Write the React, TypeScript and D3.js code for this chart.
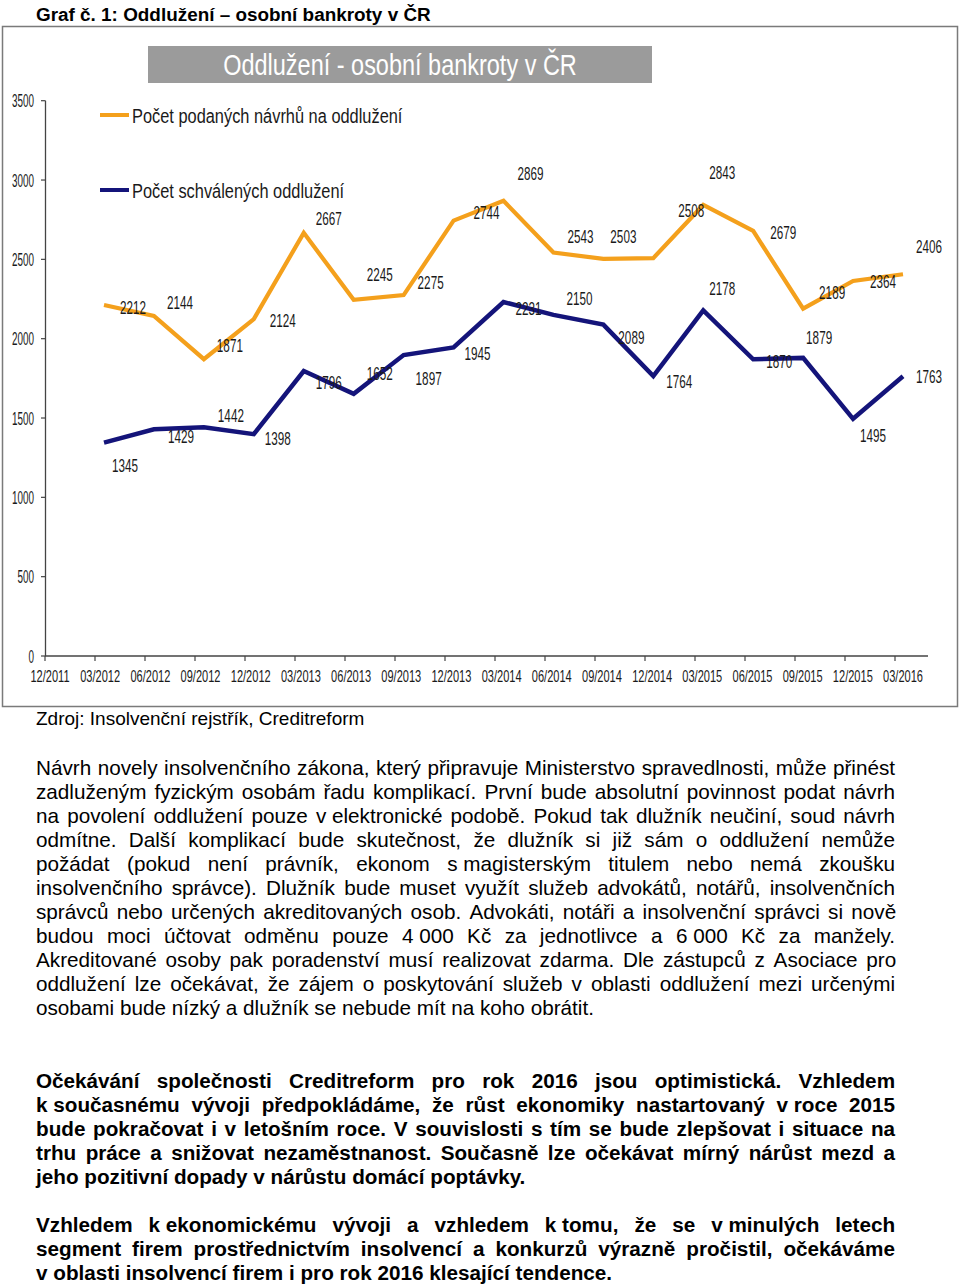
import React, { useEffect, useRef } from "react";
import * as d3 from "d3";

// ---------- DATA ----------
const categories = [
  "12/2011", "03/2012", "06/2012", "09/2012", "12/2012", "03/2013", "06/2013", "09/2013", "12/2013",
  "03/2014", "06/2014", "09/2014", "12/2014", "03/2015", "06/2015", "09/2015", "12/2015", "03/2016",
];
// values start at 03/2012 (category index 1)
const filedSeries = [2212, 2144, 1871, 2124, 2667, 2245, 2275, 2744, 2869, 2543, 2503, 2508, 2843, 2679, 2189, 2364, 2406];
const approvedSeries = [1345, 1429, 1442, 1398, 1796, 1652, 1897, 1945, 2231, 2150, 2089, 1764, 2178, 1870, 1879, 1495, 1763];
const yTickValues = [0, 500, 1000, 1500, 2000, 2500, 3000, 3500];
const seriesNames = ["Počet podaných návrhů na oddlužení", "Počet schválených oddlužení"];
const chartTitle = "Oddlužení - osobní bankroty v ČR";
const pageHeading = "Graf č. 1: Oddlužení – osobní bankroty v ČR";
const sourceNote = "Zdroj: Insolvenční rejstřík, Creditreform";
// "~" marks a non-breaking (non-stretching) space
const paragraphA = [
  "Návrh novely insolvenčního zákona, který připravuje Ministerstvo spravedlnosti, může přinést",
  "zadluženým fyzickým osobám řadu komplikací. První bude absolutní povinnost podat návrh",
  "na povolení oddlužení pouze v~elektronické podobě. Pokud tak dlužník neučiní, soud návrh",
  "odmítne. Další komplikací bude skutečnost, že dlužník si již sám o oddlužení nemůže",
  "požádat (pokud není právník, ekonom s~magisterským titulem nebo nemá zkoušku",
  "insolvenčního správce). Dlužník bude muset využít služeb advokátů, notářů, insolvenčních",
  "správců nebo určených akreditovaných osob. Advokáti, notáři a insolvenční správci si nově",
  "budou moci účtovat odměnu pouze 4~000 Kč za jednotlivce a 6~000 Kč za manžely.",
  "Akreditované osoby pak poradenství musí realizovat zdarma. Dle zástupců z Asociace pro",
  "oddlužení lze očekávat, že zájem o poskytování služeb v oblasti oddlužení mezi určenými",
  "osobami bude nízký a dlužník se nebude mít na koho obrátit.",
];
const paragraphB = [
  "Očekávání společnosti Creditreform pro rok 2016 jsou optimistická. Vzhledem",
  "k~současnému vývoji předpokládáme, že růst ekonomiky nastartovaný v~roce 2015",
  "bude pokračovat i v letošním roce. V souvislosti s tím se bude zlepšovat i situace na",
  "trhu práce a snižovat nezaměstnanost. Současně lze očekávat mírný nárůst mezd a",
  "jeho pozitivní dopady v nárůstu domácí poptávky.",
];
const paragraphC = [
  "Vzhledem k~ekonomickému vývoji a vzhledem k~tomu, že se v~minulých letech",
  "segment firem prostřednictvím insolvencí a konkurzů výrazně pročistil, očekáváme",
  "v~oblasti insolvencí firem i pro rok 2016 klesající tendence.",
];

// ---------- LAYOUT ----------
const filedLabelOffsets: [number, number][] = [
  [29, 2], [26, -13], [26, -14], [29, 1], [25, -14], [26, -25], [27, -13], [33, -8], [27, -27],
  [27, -16], [20, -22], [38, -48], [19, -32], [30, 2], [29, -16], [30, 1], [26, -28],
];
const approvedLabelOffsets: [number, number][] = [
  [21, 23], [27, 7], [27, -12], [24, 4], [25, 11], [26, -20], [25, 23], [24, 6], [25, 6],
  [26, -16], [28, 13], [26, 5], [19, -22], [26, 2], [16, -20], [20, 17], [26, 0],
];

const FONT = "'Liberation Sans', Arial, Helvetica, sans-serif";
const ORANGE = "#F4A01C";
const NAVY = "#14147A";
const TEXT_X = 36;
const TEXT_W = 859;
const BODY_FS = 20.7;

function NarrowText(props: {
  x: number; y: number; text: string; size: number; sx: number;
  anchor?: "start" | "middle" | "end"; fill?: string; weight?: string;
}) {
  const { x, y, text, size, sx, anchor = "middle", fill = "#1a1a1a", weight = "normal" } = props;
  return (
    <text
      transform={`translate(${x},${y}) scale(${sx},1)`}
      textAnchor={anchor}
      fontFamily={FONT}
      fontSize={size}
      fontWeight={weight}
      fill={fill}
    >
      {text}
    </text>
  );
}

export default function App() {
  const textRef = useRef<SVGGElement>(null);

  const yScale = d3.scaleLinear().domain([0, 3500]).range([656, 100.7]);
  const xTick = d3.scaleLinear().domain([0, categories.length - 1]).range([45, 895]);
  const xLabel = d3.scaleLinear().domain([0, categories.length - 1]).range([50, 903]);
  const xPos = d3.scaleLinear().domain([1, categories.length - 1]).range([104, 903]);

  const lineGen = d3
    .line<number>()
    .x((_, i) => xPos(i + 1))
    .y((d) => yScale(d));

  useEffect(() => {
    const g = d3.select(textRef.current);
    g.selectAll("*").remove();
    const drawBlock = (lines: string[], startY: number, bold: boolean) => {
      lines.forEach((line, i) => {
        const t = g
          .append("text")
          .attr("x", TEXT_X)
          .attr("y", startY + i * 24)
          .attr("font-family", FONT)
          .attr("font-size", BODY_FS)
          .attr("font-weight", bold ? "bold" : "normal")
          .attr("fill", "#000")
          .style("white-space", "pre");
        const tokens = line.split(" ");
        tokens.forEach((tok, j) => {
          t.append("tspan").style("word-spacing", "0px").text(tok.replace(/~/g, "\u00A0"));
          if (j < tokens.length - 1) (t.node() as SVGTextElement).appendChild(document.createTextNode(" "));
        });
        const isLast = i === lines.length - 1;
        if (!isLast && tokens.length > 1) {
          const w = (t.node() as SVGTextElement).getComputedTextLength();
          const extra = (TEXT_W - w) / (tokens.length - 1);
          t.style("word-spacing", `${extra}px`);
        }
      });
    };
    drawBlock(paragraphA, 775, false);
    drawBlock(paragraphB, 1088, true);
    drawBlock(paragraphC, 1232, true);
  }, []);

  return (
    <svg
      width={960}
      height={1287}
      style={{ position: "absolute", left: 0, top: 0, background: "#fff" }}
    >
      <rect x={0} y={0} width={960} height={1287} fill="#fff" />
      {/* page heading */}
      <text x={TEXT_X} y={21} fontFamily={FONT} fontSize={18.9} fontWeight="bold" fill="#000">
        {pageHeading}
      </text>

      {/* chart frame */}
      <rect x={2.5} y={26.5} width={955} height={680} fill="#fff" stroke="#7a7a7a" strokeWidth={1.5} />

      {/* title bar */}
      <rect x={148} y={46} width={504} height={37} fill="#9b9b9b" />
      <NarrowText x={400} y={75} text={chartTitle} size={29} sx={0.81} fill="#fff" />

      {/* y axis */}
      <line x1={45.5} x2={45.5} y1={yScale(3500)} y2={yScale(0)} stroke="#444" strokeWidth={1.3} />
      {yTickValues.map((v) => (
        <g key={v}>
          <line x1={41} x2={45.5} y1={yScale(v)} y2={yScale(v)} stroke="#444" strokeWidth={1.2} />
          <NarrowText x={34} y={yScale(v) + 6.5} text={String(v)} size={18} sx={0.55} anchor="end" />
        </g>
      ))}

      {/* x axis */}
      <line x1={45} x2={928} y1={656} y2={656} stroke="#444" strokeWidth={1.3} />
      {categories.map((c, i) => (
        <g key={c}>
          <line x1={xTick(i)} x2={xTick(i)} y1={656} y2={661} stroke="#444" strokeWidth={1.2} />
          <NarrowText x={xLabel(i)} y={682} text={c} size={17} sx={0.65} />
        </g>
      ))}

      {/* legend */}
      <line x1={100} x2={129} y1={115} y2={115} stroke={ORANGE} strokeWidth={4} />
      <NarrowText x={132} y={123} text={seriesNames[0]} size={21} sx={0.78} anchor="start" />
      <line x1={100} x2={129} y1={190} y2={190} stroke={NAVY} strokeWidth={4} />
      <NarrowText x={132} y={198} text={seriesNames[1]} size={21} sx={0.78} anchor="start" />

      {/* lines */}
      <path d={lineGen(filedSeries) || ""} fill="none" stroke={ORANGE} strokeWidth={4.2} strokeLinejoin="miter" />
      <path d={lineGen(approvedSeries) || ""} fill="none" stroke={NAVY} strokeWidth={4.5} strokeLinejoin="miter" />

      {/* data labels */}
      {filedSeries.map((v, i) => (
        <NarrowText
          key={"f" + i}
          x={xPos(i + 1) + filedLabelOffsets[i][0]}
          y={yScale(v) + filedLabelOffsets[i][1] + 6.5}
          text={String(v)}
          size={18}
          sx={0.65}
        />
      ))}
      {approvedSeries.map((v, i) => (
        <NarrowText
          key={"a" + i}
          x={xPos(i + 1) + approvedLabelOffsets[i][0]}
          y={yScale(v) + approvedLabelOffsets[i][1] + 6.5}
          text={String(v)}
          size={18}
          sx={0.65}
        />
      ))}

      {/* source */}
      <text x={TEXT_X} y={725} fontFamily={FONT} fontSize={19} fill="#000">
        {sourceNote}
      </text>

      <g ref={textRef} />
    </svg>
  );
}
